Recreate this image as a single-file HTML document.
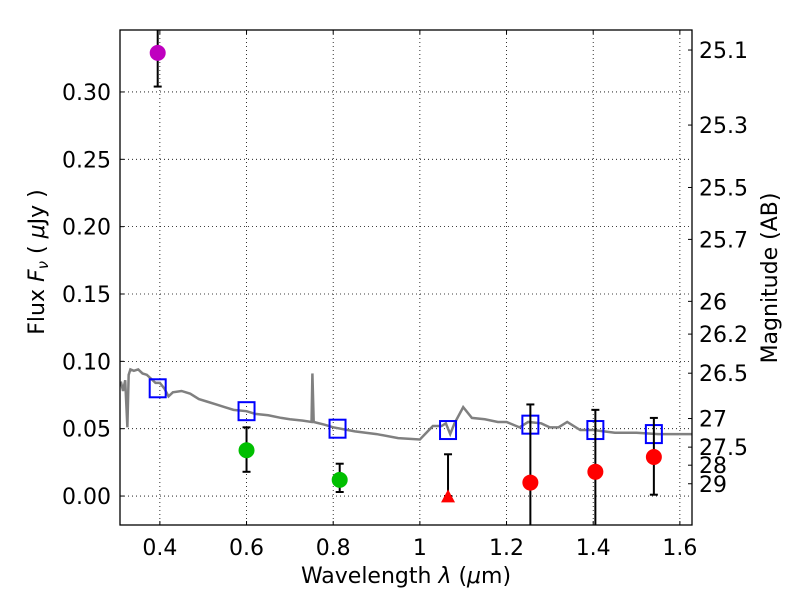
<!DOCTYPE html>
<html><head><meta charset="utf-8"><style>
body{margin:0;background:#fff;}
svg text{font-family:"DejaVu Sans","Liberation Sans",sans-serif;}
</style></head><body>
<svg id="chart" width="800" height="600" xmlns="http://www.w3.org/2000/svg">
<rect width="800" height="600" fill="#fff"/>
<g id="grid"></g>
<g id="marks"></g>
<rect x="120" y="30" width="572" height="495" fill="none" stroke="#000" stroke-width="1.3"/>
<g id="axes"></g>
<text x="406" y="583" font-size="22" text-anchor="middle">Wavelength  <tspan font-style="italic">λ</tspan> (<tspan font-style="italic">μ</tspan>m)</text>
<text transform="translate(44,262) rotate(-90)" font-size="22" text-anchor="middle">Flux  <tspan font-style="italic">F<tspan font-size="15" dy="4">ν</tspan></tspan><tspan dy="-4"> ( </tspan><tspan font-style="italic">μ</tspan>Jy )</text>
<text transform="translate(777,278) rotate(-90)" font-size="22" text-anchor="middle">Magnitude (AB)</text>
</svg>
<script>
const xTicks=[0.4,0.6,0.8,1,1.2,1.4,1.6];
const xTickLabels=["0.4","0.6","0.8","1","1.2","1.4","1.6"];
const yTicks=[0,0.05,0.1,0.15,0.2,0.25,0.3];
const yTickLabels=["0.00","0.05","0.10","0.15","0.20","0.25","0.30"];
const magTicks=[25.1,25.3,25.5,25.7,26,26.2,26.5,27,27.5,28,29];
const magLabels=["25.1","25.3","25.5","25.7","26","26.2","26.5","27","27.5","28","29"];
const sedWave=[0.31,0.315,0.32,0.325,0.328,0.332,0.34,0.35,0.36,0.37,0.38,0.39,0.40,0.41,0.42,0.43,0.45,0.47,0.49,0.51,0.53,0.55,0.57,0.60,0.62,0.65,0.68,0.70,0.73,0.75,0.752,0.755,0.78,0.80,0.85,0.90,0.95,1.0,1.03,1.05,1.06,1.07,1.08,1.10,1.12,1.15,1.18,1.20,1.23,1.25,1.28,1.30,1.32,1.34,1.37,1.40,1.45,1.50,1.55,1.63];
const sedFlux=[0.085,0.078,0.086,0.051,0.09,0.094,0.093,0.094,0.091,0.09,0.087,0.084,0.084,0.080,0.074,0.077,0.078,0.076,0.072,0.070,0.068,0.066,0.064,0.063,0.061,0.060,0.058,0.057,0.056,0.055,0.091,0.055,0.053,0.051,0.048,0.046,0.043,0.042,0.052,0.052,0.054,0.046,0.054,0.066,0.058,0.057,0.055,0.055,0.051,0.055,0.054,0.051,0.051,0.055,0.049,0.049,0.047,0.047,0.046,0.046];
const bandWave=[0.395,0.60,0.81,1.065,1.255,1.405,1.54];
const modelFlux=[0.080,0.063,0.050,0.049,0.053,0.049,0.046];
const obsWave=[0.395,0.60,0.815,1.065,1.255,1.405,1.54];
const obsFlux=[0.329,0.034,0.012,-0.001,0.010,0.018,0.029];
const obsErrLo=[0.304,0.018,0.003,0.0,-0.03,-0.03,0.001];
const obsErrHi=[0.36,0.051,0.024,0.031,0.068,0.064,0.058];
const obsColor=["#bf00bf","#00bf00","#00bf00","#ff0000","#ff0000","#ff0000","#ff0000"];
const obsShape=["circle","circle","circle","triangle","circle","circle","circle"];

const L=120,R=692,T=30,B=525,x0=0.308,x1=1.628,y0=-0.0215,y1=0.346;
const X=v=>L+(v-x0)/(x1-x0)*(R-L);
const Y=v=>B-(v-y0)/(y1-y0)*(B-T);
const NS="http://www.w3.org/2000/svg";
function mk(tag,attrs,parent,text){const e=document.createElementNS(NS,tag);for(const k in attrs)e.setAttribute(k,attrs[k]);if(text!==undefined)e.textContent=text;parent.appendChild(e);return e;}
const grid=document.getElementById('grid'),marks=document.getElementById('marks'),axes=document.getElementById('axes');
xTicks.forEach((t,i)=>{
  const g=mk('line',{x1:X(t),x2:X(t),y1:T,y2:B,stroke:'#000','stroke-width':0.8,'stroke-dasharray':'1,3'},grid);
  
  
  mk('line',{x1:X(t),x2:X(t),y1:B,y2:B-4,stroke:'#000'},axes);
  mk('line',{x1:X(t),x2:X(t),y1:T,y2:T+4,stroke:'#000'},axes);
  const tx=mk('text',{x:X(t),y:B+30,'font-size':22,'text-anchor':'middle'},axes,xTickLabels[i]);
  
  
});
yTicks.forEach((t,i)=>{
  const g=mk('line',{x1:L,x2:R,y1:Y(t),y2:Y(t),stroke:'#000','stroke-width':0.8,'stroke-dasharray':'1,3'},grid);
  
  
  mk('line',{x1:L,x2:L+4,y1:Y(t),y2:Y(t),stroke:'#000'},axes);
  const tx=mk('text',{x:L-9,y:Y(t)+8,'font-size':22,'text-anchor':'end'},axes,yTickLabels[i]);
  
  
});
magTicks.forEach((m,i)=>{
  const f=Math.pow(10,(23.9-m)/2.5);
  mk('line',{x1:R,x2:R-4,y1:Y(f),y2:Y(f),stroke:'#000'},axes);
  const tx=mk('text',{x:R+7,y:Y(f)+8,'font-size':22},axes,magLabels[i]);
  
  
});
const clip=mk('clipPath',{id:'pc'},marks);mk('rect',{x:L,y:T,width:R-L,height:B-T},clip);
const mg=mk('g',{'clip-path':'url(#pc)'},marks);
const sed=mk('polyline',{points:sedWave.map((w,i)=>X(w)+','+Y(sedFlux[i])).join(' '),fill:'none',stroke:'#808080','stroke-width':2.5},mg);


bandWave.forEach((w,i)=>{
  const s=mk('rect',{x:X(w)-8,y:Y(modelFlux[i])-9,width:16,height:18,fill:'none',stroke:'#0000ff','stroke-width':2},mg);
  
  
});
obsWave.forEach((w,i)=>{
  const x=X(w);
  const e=mk('g',{stroke:'#000','stroke-width':2},mg);
  
  
  mk('line',{x1:x,x2:x,y1:Y(obsErrLo[i]),y2:Y(obsErrHi[i])},e);
  mk('line',{x1:x-4,x2:x+4,y1:Y(obsErrLo[i]),y2:Y(obsErrLo[i])},e);
  mk('line',{x1:x-4,x2:x+4,y1:Y(obsErrHi[i]),y2:Y(obsErrHi[i])},e);
  let p;
  if(obsShape[i]==='triangle'){const y=Y(obsFlux[i]);p=mk('polygon',{points:`${x},${y-8} ${x-7},${y+5} ${x+7},${y+5}`,fill:obsColor[i]},mg);}
  else p=mk('ellipse',{cx:x,cy:Y(obsFlux[i]),rx:8,ry:8,fill:obsColor[i]},mg);
  
  
});
</script>
</body></html>
